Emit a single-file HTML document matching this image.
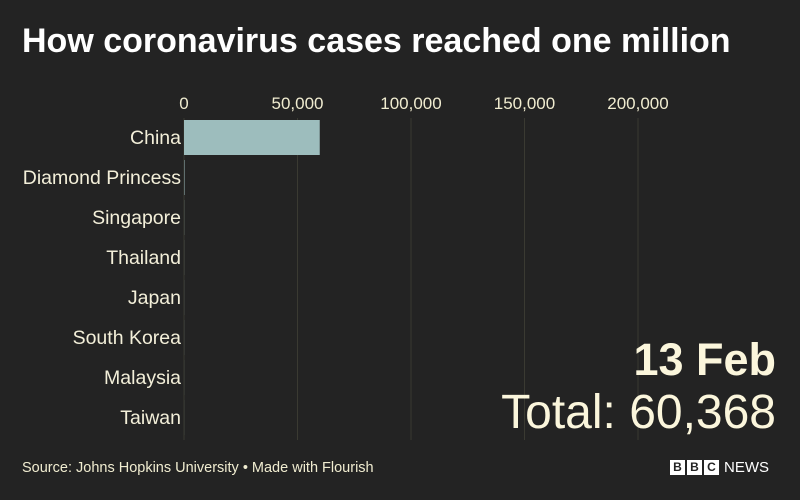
<!DOCTYPE html>
<html><head><meta charset="utf-8"><style>
body{margin:0;background:#232323;}
#c{position:relative;width:800px;height:500px;background:#232323;font-family:"Liberation Sans",sans-serif;color:#f3efd9;overflow:hidden}
.t{position:absolute;white-space:nowrap}
</style></head><body>
<div id="c">
<div class="t" style="left:22px;top:22px;font-size:34px;font-weight:bold;color:#fff">How coronavirus cases reached one million</div>
<svg id="s" width="800" height="500" style="position:absolute;left:0;top:0"></svg>
<div class="t" style="right:24px;top:334px;font-size:45px;font-weight:bold;color:#fbf6dc">13 Feb</div>
<div class="t" style="right:24px;top:385px;font-size:48px;color:#fbf6dc">Total: 60,368</div>
<div class="t" style="left:22px;top:460px;font-size:14.5px;color:#f0ecd0">Source: Johns Hopkins University • Made with Flourish</div>
<div class="t" style="left:670px;top:459px;font-size:14px;color:#fff;display:flex;gap:2px;align-items:center">
<span style="background:#fff;color:#232323;font-weight:bold;width:15px;height:15px;line-height:15px;text-align:center;font-size:12px">B</span>
<span style="background:#fff;color:#232323;font-weight:bold;width:15px;height:15px;line-height:15px;text-align:center;font-size:12px">B</span>
<span style="background:#fff;color:#232323;font-weight:bold;width:15px;height:15px;line-height:15px;text-align:center;font-size:12px">C</span>
<span style="margin-left:3px;font-size:15px">NEWS</span></div>
</div>
<script>
const categories=["China","Diamond Princess","Singapore","Thailand","Japan","South Korea","Malaysia","Taiwan"];
const values=[59800,218,58,33,28,28,18,18];
const ticks=[0,50000,100000,150000,200000];
const tickLabels=["0","50,000","100,000","150,000","200,000"];
const s=document.getElementById('s');const NS="http://www.w3.org/2000/svg";
const x0=184,pxPer=113.5/50000;const x=v=>x0+v*pxPer;
const y=i=>120+i*40;
function el(t,a){const e=document.createElementNS(NS,t);for(const k in a)e.setAttribute(k,a[k]);s.appendChild(e);return e;}
ticks.forEach((t,i)=>{
const l=el('line',{x1:x(t),x2:x(t),y1:118,y2:440,stroke:'#3a3a32','stroke-width':1});


const tx=el('text',{x:x(t),y:109,'text-anchor':'middle','font-size':17,fill:'#f0ecd0','font-family':'Liberation Sans, sans-serif'});
tx.textContent=tickLabels[i];


});
categories.forEach((c,i)=>{
const r=el('rect',{x:x0,y:y(i),width:Math.max(0,x(values[i])-x0),height:35,fill:'#9dbdbd'});


const tx=el('text',{x:181,y:y(i)+24,'text-anchor':'end','font-size':19.5,fill:'#f3efd9','font-family':'Liberation Sans, sans-serif'});
tx.textContent=c;


});
</script>
</body></html>
